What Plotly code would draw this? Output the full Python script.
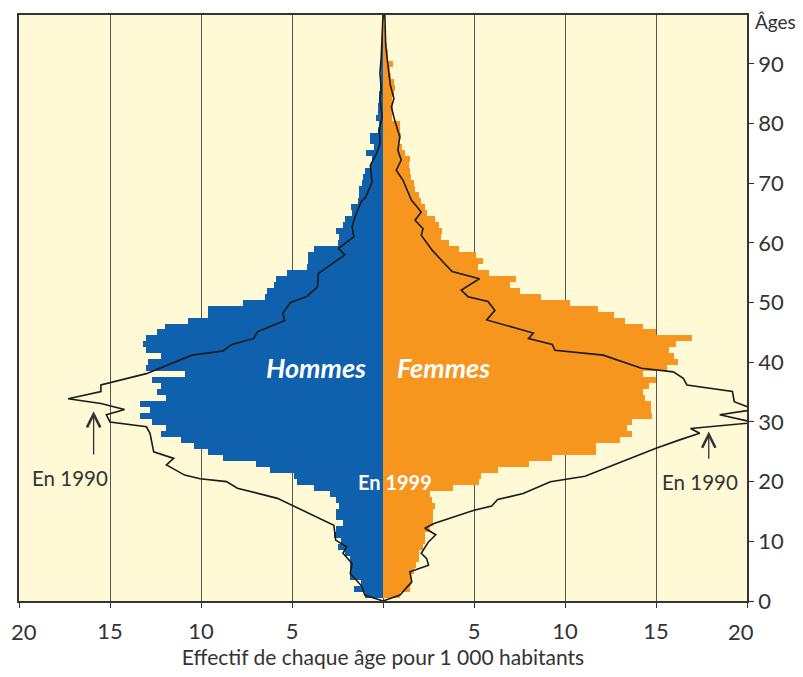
import plotly.graph_objects as go

# Ages (bars centred on each age)
ages = list(range(1, 98))

# 1999 population per 1 000 inhabitants, by age (1..97)
hommes_1999 = [
    1.0, 1.6, 1.2, 1.8, 1.8, 1.8, 1.8, 2.1, 2.5, 2.3,
    2.7, 2.6, 2.2, 2.6, 2.6, 2.4, 2.6, 2.9, 3.8, 4.7,
    4.9, 6.2, 7.0, 8.8, 9.6, 10.4, 11.1, 12.2, 11.9, 12.7,
    13.35, 12.8, 13.35, 11.9, 12.4, 12.2, 12.7, 10.9, 13.0, 12.9,
    12.2, 13.0, 13.2, 13.0, 12.4, 12.0, 10.7, 9.6, 9.6, 7.7,
    6.5, 6.4, 6.0, 5.9, 5.3, 4.2, 4.1, 4.1, 3.8, 2.5,
    2.4, 2.6, 2.2, 2.1, 1.7, 1.75, 1.4, 1.3, 1.3, 1.15,
    1.1, 1.0, 0.65, 0.6, 0.93, 0.5, 0.7, 0.7, 0.25, 0.2,
    0.4, 0.3, 0.3, 0.2, 0.2, 0.15, 0.15, 0.12, 0.1, 0.1,
    0.08, 0.07, 0.06, 0.05, 0.04, 0.03, 0.02,
]
femmes_1999 = [
    0.92, 1.47, 1.56, 1.56, 1.7, 1.83, 2.0, 2.0, 2.2, 2.3,
    2.3, 2.56, 2.75, 2.75, 2.75, 2.84, 2.7, 2.6, 3.85, 5.3,
    5.4, 6.3, 8.0, 9.3, 11.7, 11.7, 13.0, 13.7, 13.4, 13.7,
    14.8, 14.7, 14.7, 14.4, 14.3, 14.6, 15.0, 14.3, 15.6, 16.2,
    16.0, 15.7, 16.1, 17.0, 15.0, 14.3, 13.3, 12.7, 11.8, 10.3,
    8.7, 7.5, 7.0, 7.3, 5.8, 5.2, 5.5, 5.1, 4.2, 3.6,
    3.2, 3.25, 3.1, 2.85, 2.44, 2.3, 2.1, 1.96, 1.75, 1.7,
    1.56, 1.47, 1.41, 1.47, 1.19, 1.04, 0.86, 1.0, 0.92, 0.92,
    0.5, 0.55, 0.55, 0.5, 0.6, 0.66, 0.6, 0.45, 0.4, 0.55,
    0.3, 0.25, 0.2, 0.15, 0.1, 0.08, 0.05,
]

# 1990 profile (traced line): ages and values
hommes_1990_age = [0, 1, 2.5, 4.6, 6.3, 8, 9.1, 10.2, 12.7, 15.9, 17.2, 18.9, 20, 20.5,
                   21.1, 22.8, 23.9, 25, 28.1, 29.2, 30, 31.2, 32.1, 33.1, 33.9, 35.1,
                   36.2, 38.1, 41.2, 41.9, 43, 44, 45.1, 47, 48.2, 50, 51, 52.6, 54.9,
                   58, 59.1, 61, 62.7, 64.7, 66.9, 67.7, 70.2, 73, 75, 76.7, 79, 81.1,
                   84, 86, 88.5, 91, 94, 98.2]
hommes_1990_val = [0, 1.0, 1.17, 1.8, 1.7, 2.2, 2.0, 2.6, 2.7, 4.9, 5.8, 8.0, 8.6, 10.05,
                   10.9, 11.9, 11.5, 12.6, 12.8, 13.0, 15.0, 15.2, 14.2, 15.5, 17.3, 15.5,
                   15.5, 13.0, 10.5, 8.8, 8.3, 7.1, 6.9, 5.4, 5.5, 5.1, 4.2, 3.6, 3.55,
                   2.1, 2.45, 1.6, 1.7, 1.5, 1.2, 0.95, 0.6, 0.7, 0.35, 0.16, 0.2, 0.05,
                   0.16, 0.1, 0.17, 0.1, 0.05, 0.0]
femmes_1990_age = [0, 1, 3.2, 4.9, 6, 7.1, 8, 9.9, 11.1, 12.2, 13, 15.2, 15.9, 17, 18,
                   20, 20.9, 22.8, 25.6, 27, 28.1, 28.9, 29.9, 31.2, 32.1, 33.4, 35.1,
                   36.2, 37.3, 38.4, 39, 41.2, 42, 43, 44, 44.9, 47.1, 48.7, 50.2, 51,
                   52.1, 54, 55.2, 56.8, 58.8, 61.3, 62.4, 63.8, 65.2, 67.2, 70.5, 72.2,
                   73.9, 75.5, 77.8, 80.6, 82.8, 84.2, 86.5, 89, 93, 98.2]
femmes_1990_val = [0, 0.93, 1.58, 1.48, 2.5, 2.4, 2.1, 2.5, 2.9, 2.3, 2.8, 5.0, 5.97,
                   6.3, 7.7, 9.2, 11.1, 12.65, 15.0, 16.3, 17.4, 16.9, 20.4, 18.5, 20.4,
                   19.3, 19.2, 16.7, 16.5, 15.95, 14.2, 12.1, 9.45, 9.3, 8.0, 8.26, 5.7,
                   6.15, 5.77, 4.67, 4.3, 5.3, 3.8, 3.3, 2.7, 2.1, 2.2, 1.76, 2.1, 1.56,
                   1.1, 0.73, 1.0, 0.82, 0.92, 0.64, 0.46, 0.6, 0.4, 0.3, 0.15, 0.1]

# x-axis ticks; the two end labels ("20") are drawn as annotations nudged inward
x_ticks = [-20, -15, -10, -5, 0, 5, 10, 15, 20]
x_ticklabels = ["", "15", "10", "5", "", "5", "10", "15", ""]
x_end_ticks = [-20, 20]
x_end_labels = ["20", "20"]
y_ticks = [0, 10, 20, 30, 40, 50, 60, 70, 80, 90]

BLUE = "#0F61AD"
ORANGE = "#F7961F"
BG = "#FFF9D5"
FONT = "Lato"
TXT = "#333333"

fig = go.Figure()
fig.add_trace(go.Bar(
    y=ages, x=[-v for v in hommes_1999], orientation="h",
    marker=dict(color=BLUE, line=dict(width=0)), width=1.0, name="Hommes",
))
fig.add_trace(go.Bar(
    y=ages, x=femmes_1999, orientation="h",
    marker=dict(color=ORANGE, line=dict(width=0)), width=1.0, name="Femmes",
))
fig.add_trace(go.Scatter(
    x=[-v for v in hommes_1990_val], y=hommes_1990_age, mode="lines",
    line=dict(color="#1a1a1a", width=1.6), name="Hommes 1990",
))
fig.add_trace(go.Scatter(
    x=femmes_1990_val, y=femmes_1990_age, mode="lines",
    line=dict(color="#1a1a1a", width=1.6), name="Femmes 1990",
))

annotations = [
    dict(x=-3.7, y=39.2, text="Hommes", showarrow=False,
         font=dict(family=FONT, size=27, color="white", weight="bold", style="italic")),
    dict(x=3.35, y=39.2, text="Femmes", showarrow=False,
         font=dict(family=FONT, size=27, color="white", weight="bold", style="italic")),
    dict(x=0.66, y=20.0, text="En 1999", showarrow=False,
         font=dict(family=FONT, size=20, color="white", weight="bold")),
    dict(x=-17.2, y=20.6, text="En 1990", showarrow=False,
         font=dict(family=FONT, size=20.5, color=TXT)),
    dict(x=17.4, y=20.0, text="En 1990", showarrow=False,
         font=dict(family=FONT, size=20.5, color=TXT)),
    dict(x=-15.9, y=31.8, ax=-15.9, ay=24.3, axref="x", ayref="y", text="",
         showarrow=True, arrowhead=5, arrowsize=2.0, arrowwidth=1.3, arrowcolor=TXT),
    dict(x=17.9, y=28.4, ax=17.9, ay=23.6, axref="x", ayref="y", text="",
         showarrow=True, arrowhead=5, arrowsize=2.0, arrowwidth=1.3, arrowcolor=TXT),
    dict(xref="paper", yref="paper", x=1.0, y=1.0, xanchor="left", yanchor="middle",
         xshift=6, yshift=-6, text="Âges", showarrow=False,
         font=dict(family=FONT, size=19, color=TXT)),
]
for xv, lab, shift in zip(x_end_ticks, x_end_labels, [5, -6]):
    annotations.append(dict(
        xref="x", yref="paper", x=xv, y=0, xanchor="center", yanchor="middle",
        xshift=shift, yshift=-30, text=lab, showarrow=False,
        font=dict(family=FONT, size=22, color=TXT),
    ))

fig.update_layout(
    width=787, height=661,
    margin=dict(l=11, r=48, t=7, b=68, autoexpand=False),
    paper_bgcolor="white", plot_bgcolor=BG,
    barmode="overlay", bargap=0, showlegend=False,
    font=dict(family=FONT, color=TXT),
    annotations=annotations,
)
fig.update_xaxes(
    range=[-20, 20], tickvals=x_ticks, ticktext=x_ticklabels,
    automargin=False,
    showgrid=True, gridcolor="#555555", gridwidth=1, zeroline=False,
    showline=True, linecolor="#333333", linewidth=1.5, mirror=True,
    ticks="outside", ticklen=5, tickcolor="#333333",
    ticklabelstandoff=5,
    tickfont=dict(family=FONT, size=22, color=TXT),
    title=dict(text="Effectif de chaque âge pour 1 000 habitants",
               font=dict(family=FONT, size=21, color=TXT), standoff=24),
)
fig.update_yaxes(
    range=[0, 98.2], tickvals=y_ticks, side="right",
    automargin=False,
    showgrid=False, zeroline=False,
    showline=True, linecolor="#333333", linewidth=1.5, mirror=True,
    ticks="outside", ticklen=5, tickcolor="#333333",
    ticklabeloverflow="allow",
    tickfont=dict(family=FONT, size=22, color=TXT),
)

fig.write_html("out.html")
